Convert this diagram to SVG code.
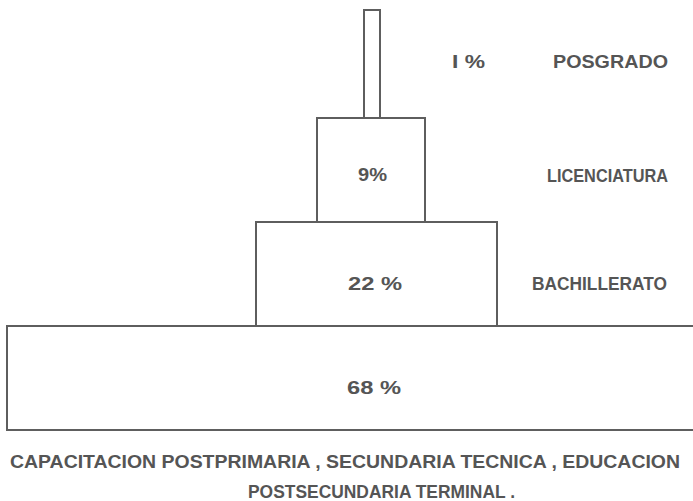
<svg xmlns="http://www.w3.org/2000/svg" width="693" height="501" viewBox="0 0 693 501">
<style>
.box{fill:none;stroke:#5e5e5e;stroke-width:2}
.t{font-family:"Liberation Sans",Arial,sans-serif;font-weight:bold;font-size:19px;fill:#555;}
</style>
<rect width="693" height="501" fill="#fff"/>
<g id="posgrado">
<rect class="box" x="364" y="10" width="16" height="108"/>
<text class="t" x="452" y="68" textLength="33" lengthAdjust="spacingAndGlyphs">I %</text>
<text class="t" x="553" y="68" textLength="115" lengthAdjust="spacingAndGlyphs">POSGRADO</text>
</g>
<g id="licenciatura">
<rect class="box" x="317" y="118" width="108" height="104"/>
<text class="t" x="358" y="181" textLength="29" lengthAdjust="spacingAndGlyphs">9%</text>
<text class="t" x="547" y="182" textLength="121" lengthAdjust="spacingAndGlyphs">LICENCIATURA</text>
</g>
<g id="bachillerato">
<rect class="box" x="256" y="222" width="241" height="104"/>
<text class="t" x="348" y="290" textLength="54" lengthAdjust="spacingAndGlyphs">22 %</text>
<text class="t" x="532" y="290" textLength="135" lengthAdjust="spacingAndGlyphs">BACHILLERATO</text>
</g>
<g id="base">
<path class="box" d="M693,326 H7 V430 H693"/>
<text class="t" x="347" y="394" textLength="54" lengthAdjust="spacingAndGlyphs">68 %</text>
<text class="t" x="10" y="468" textLength="670" lengthAdjust="spacingAndGlyphs">CAPACITACION POSTPRIMARIA , SECUNDARIA  TECNICA , EDUCACION</text>
<text class="t" x="248" y="498" textLength="267" lengthAdjust="spacingAndGlyphs">POSTSECUNDARIA  TERMINAL .</text>
</g>
<g id="connectors"/>
</svg>
